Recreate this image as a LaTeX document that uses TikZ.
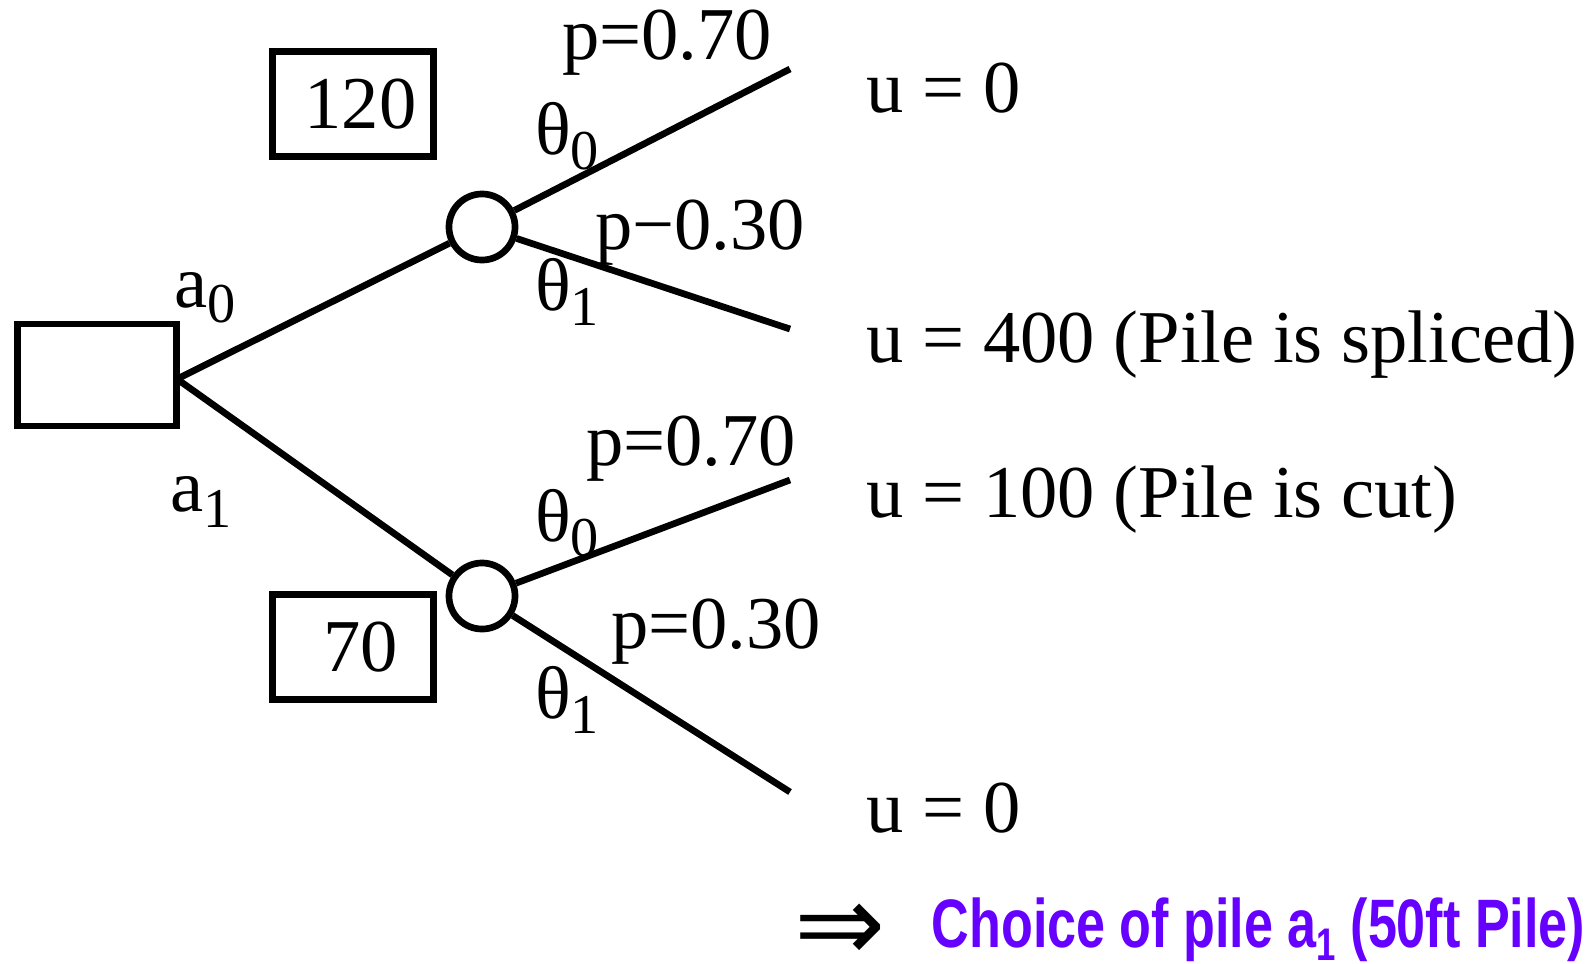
\documentclass[tikz,border=0pt]{standalone}
\usepackage{fontspec}
\setmainfont{Liberation Serif}
\newfontfamily\headfont{Liberation Sans}
\newfontfamily\arrowfont{DejaVu Sans}
\usetikzlibrary{positioning}
\definecolor{choiceviolet}{RGB}{102,0,255}
\newcommand{\lowidx}[1]{\raisebox{-0.45ex}{\fontsize{16}{16}\selectfont #1}}

\begin{document}
\begin{tikzpicture}[
    x=0.01cm, y=-0.01cm,
    every node/.style={font=\fontsize{21.2}{23}\selectfont, inner sep=0pt},
    branch/.style={line width=1.9pt},
    decision/.style={draw, line width=1.9pt, minimum width=1.585cm, minimum height=1.02cm},
    chance/.style={draw, circle, line width=1.9pt, minimum size=0.66cm},
    valbox/.style={draw, line width=1.9pt, minimum width=1.61cm, minimum height=1.05cm}
  ]
    \useasboundingbox (0,0) rectangle (1596,963);

    \node[decision] (root) at (97,375) {};
    \coordinate (fork) at (177,379);
    \node[chance] (up) at (482,227) {};
    \node[chance] (low) at (482,596) {};
    \coordinate (e1) at (790,69);
    \coordinate (e2) at (790,329);
    \coordinate (e3) at (790,480);
    \coordinate (e4) at (790,792);

    \node[valbox] (v120) at (353,104) {\hspace*{0.15cm}120};
    \node[valbox] (v70) at (353,647) {\hspace*{0.15cm}70};

    \draw[branch] (fork) -- (up);
    \draw[branch] (fork) -- (low);
    \draw[branch] (up) -- (e1);
    \draw[branch] (up) -- (e2);
    \draw[branch] (low) -- (e3);
    \draw[branch] (low) -- (e4);

    \node (a0) at (205,298) {a\lowidx{0}};
    \node (a1) at (201,502) {a\lowidx{1}};
    \node (pa) at (667,43) {p=0.70};
    \node (ta) at (567,136) {θ\lowidx{0}};
    \node (pb) at (700,233) {p−0.30};
    \node (tb) at (567,292) {θ\lowidx{1}};
    \node (pc) at (691,449) {p=0.70};
    \node (tc) at (567,523) {θ\lowidx{0}};
    \node (pd) at (716,632) {p=0.30};
    \node (td) at (567,700) {θ\lowidx{1}};

    \node[anchor=west] (u1) at (866,88) {u = 0};
    \node[anchor=west] (u2) at (866,345) {u = 400 (Pile is spliced)};
    \node[anchor=west] (u3) at (866,500) {u = 100 (Pile is cut)};
    \node[anchor=west] (u4) at (866,808) {u = 0};

    \node[font=\arrowfont\fontsize{31}{31}\selectfont] (imp) at (840,933) {⇒};
    \node[anchor=west, text=choiceviolet, font=\headfont\bfseries\fontsize{19.5}{21}\selectfont] (choice) at (931,930)
      {\scalebox{0.76}[1]{Choice of pile a\raisebox{-0.35ex}{\fontsize{13}{13}\selectfont 1} (50ft Pile)}};
  \end{tikzpicture}
\end{document}
